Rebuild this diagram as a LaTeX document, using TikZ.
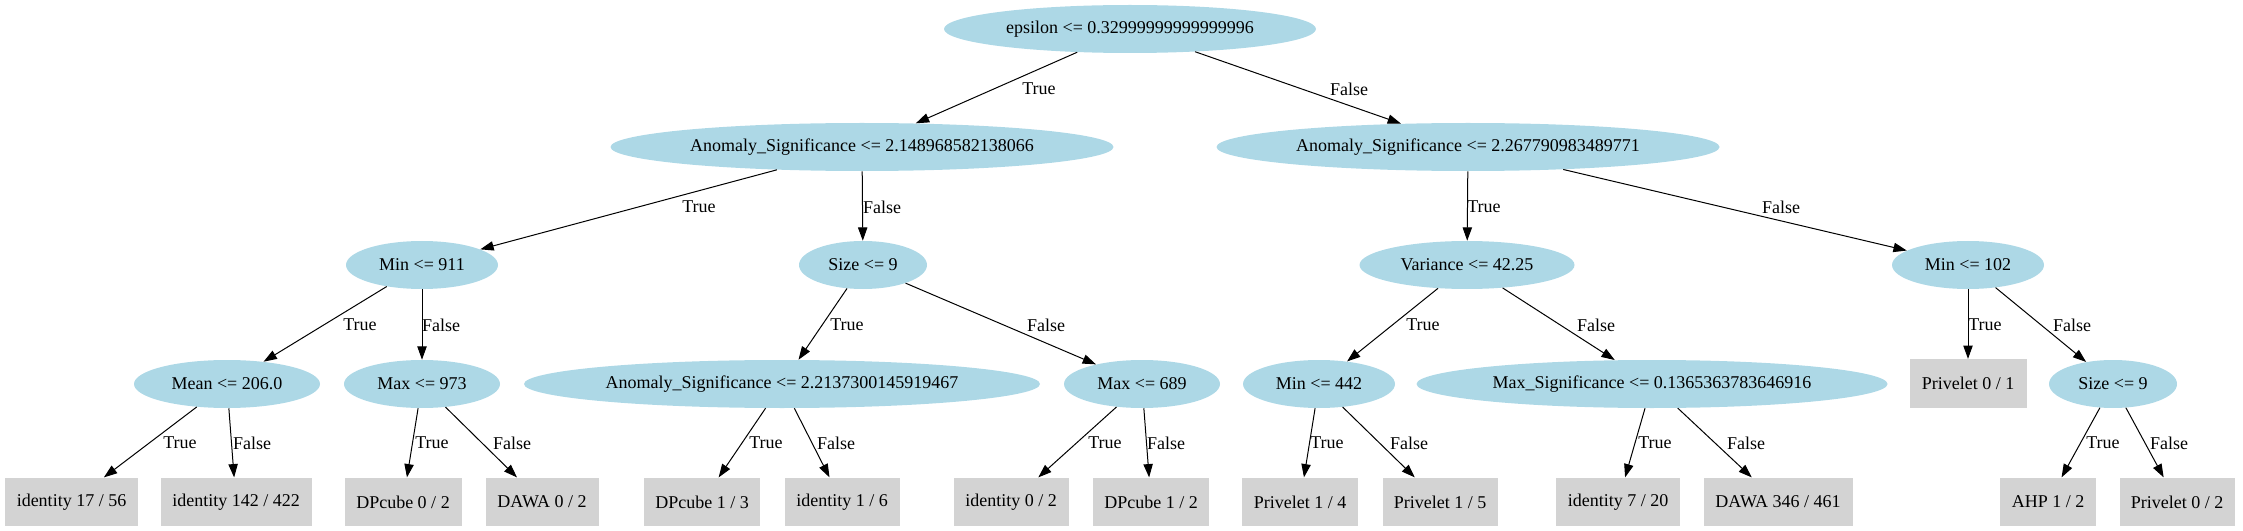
\documentclass[tikz,border=0pt]{standalone}
\usepackage{fontspec}
\setmainfont{Liberation Serif}
\usetikzlibrary{shapes.geometric,arrows.meta}
\definecolor{lb}{HTML}{ADD8E6}
\definecolor{lg}{HTML}{D3D3D3}
\tikzset{
  ell/.style={ellipse, fill=lb, minimum width=#1*0.75pt, minimum height=36pt, inner sep=0pt, font=\fontsize{13.5pt}{16pt}\selectfont},
  leaf/.style={rectangle, fill=lg, minimum width=#1*0.75pt, minimum height=36.5pt, inner sep=0pt, font=\fontsize{13.5pt}{16pt}\selectfont},
  arr/.style={draw=black, line width=0.75pt, -{Triangle[length=10pt,width=7pt]}},
  lbl/.style={font=\fontsize{13.5pt}{16pt}\selectfont, inner sep=0pt}
}
\newcommand{\edgelbl}[5]{\draw[arr] (#1) -- (#2); \node[lbl] (#1-#2) at (#3,#4) {#5};}
\begin{document}
\begin{tikzpicture}[x=0.75pt,y=-0.75pt]
\useasboundingbox (0,0) rectangle (2243,531);
\node[ell=372] (root) at (1130,29) {epsilon <= 0.32999999999999996};
\node[ell=503] (a1) at (862,147) {Anomaly\_Significance <= 2.148968582138066};
\node[ell=503] (a2) at (1468,147) {Anomaly\_Significance <= 2.267790983489771};
\node[ell=152] (m911) at (422,265) {Min <= 911};
\node[ell=128] (s9) at (863,265) {Size <= 9};
\node[ell=215] (var) at (1467,265) {Variance <= 42.25};
\node[ell=152] (m102) at (1968,265) {Min <= 102};
\node[ell=186] (mean) at (227,384) {Mean <= 206.0};
\node[ell=156] (max973) at (422,384) {Max <= 973};
\node[ell=516] (a3) at (782,384) {Anomaly\_Significance <= 2.2137300145919467};
\node[ell=156] (max689) at (1142,384) {Max <= 689};
\node[ell=152] (m442) at (1319,384) {Min <= 442};
\node[ell=471] (msig) at (1652,384) {Max\_Significance <= 0.1365363783646916};
\node[leaf=117] (p01) at (1968,383.5) {Privelet 0 / 1};
\node[ell=128] (s9r) at (2113,384) {Size <= 9};
\node[leaf=133] (l1) at (71.5,502) {identity 17 / 56};
\node[leaf=151] (l2) at (236,502) {identity 142 / 422};
\node[leaf=117] (l3) at (403,502) {DPcube 0 / 2};
\node[leaf=113] (l4) at (542,502) {DAWA 0 / 2};
\node[leaf=116] (l5) at (702,502) {DPcube 1 / 3};
\node[leaf=115] (l6) at (842,502) {identity 1 / 6};
\node[leaf=115] (l7) at (1011,502) {identity 0 / 2};
\node[leaf=116] (l8) at (1151,502) {DPcube 1 / 2};
\node[leaf=116] (l9) at (1300,502) {Privelet 1 / 4};
\node[leaf=115] (l10) at (1440,502) {Privelet 1 / 5};
\node[leaf=124] (l11) at (1618,502) {identity 7 / 20};
\node[leaf=149] (l12) at (1778,502) {DAWA 346 / 461};
\node[leaf=96] (l13) at (2048,502) {AHP 1 / 2};
\node[leaf=115] (l14) at (2177,502) {Privelet 0 / 2};
\edgelbl{root}{a1}{1039}{89}{True}
\edgelbl{root}{a2}{1349}{89}{False}
\edgelbl{a1}{m911}{699}{207}{True}
\edgelbl{a1}{s9}{882}{207}{False}
\edgelbl{a2}{var}{1484}{207}{True}
\edgelbl{a2}{m102}{1781}{207}{False}
\edgelbl{m911}{mean}{360}{325}{True}
\edgelbl{m911}{max973}{441}{325}{False}
\edgelbl{s9}{a3}{847}{325}{True}
\edgelbl{s9}{max689}{1046}{325}{False}
\edgelbl{var}{m442}{1423}{325}{True}
\edgelbl{var}{msig}{1596}{325}{False}
\edgelbl{m102}{p01}{1985}{325}{True}
\edgelbl{m102}{s9r}{2072}{325}{False}
\edgelbl{mean}{l1}{180}{443}{True}
\edgelbl{mean}{l2}{252}{443}{False}
\edgelbl{max973}{l3}{432}{443}{True}
\edgelbl{max973}{l4}{512}{443}{False}
\edgelbl{a3}{l5}{766}{443}{True}
\edgelbl{a3}{l6}{836}{443}{False}
\edgelbl{max689}{l7}{1105}{443}{True}
\edgelbl{max689}{l8}{1166}{443}{False}
\edgelbl{m442}{l9}{1327}{443}{True}
\edgelbl{m442}{l10}{1409}{443}{False}
\edgelbl{msig}{l11}{1655}{443}{True}
\edgelbl{msig}{l12}{1746}{443}{False}
\edgelbl{s9r}{l13}{2103}{443}{True}
\edgelbl{s9r}{l14}{2169}{443}{False}
\end{tikzpicture}
\end{document}
